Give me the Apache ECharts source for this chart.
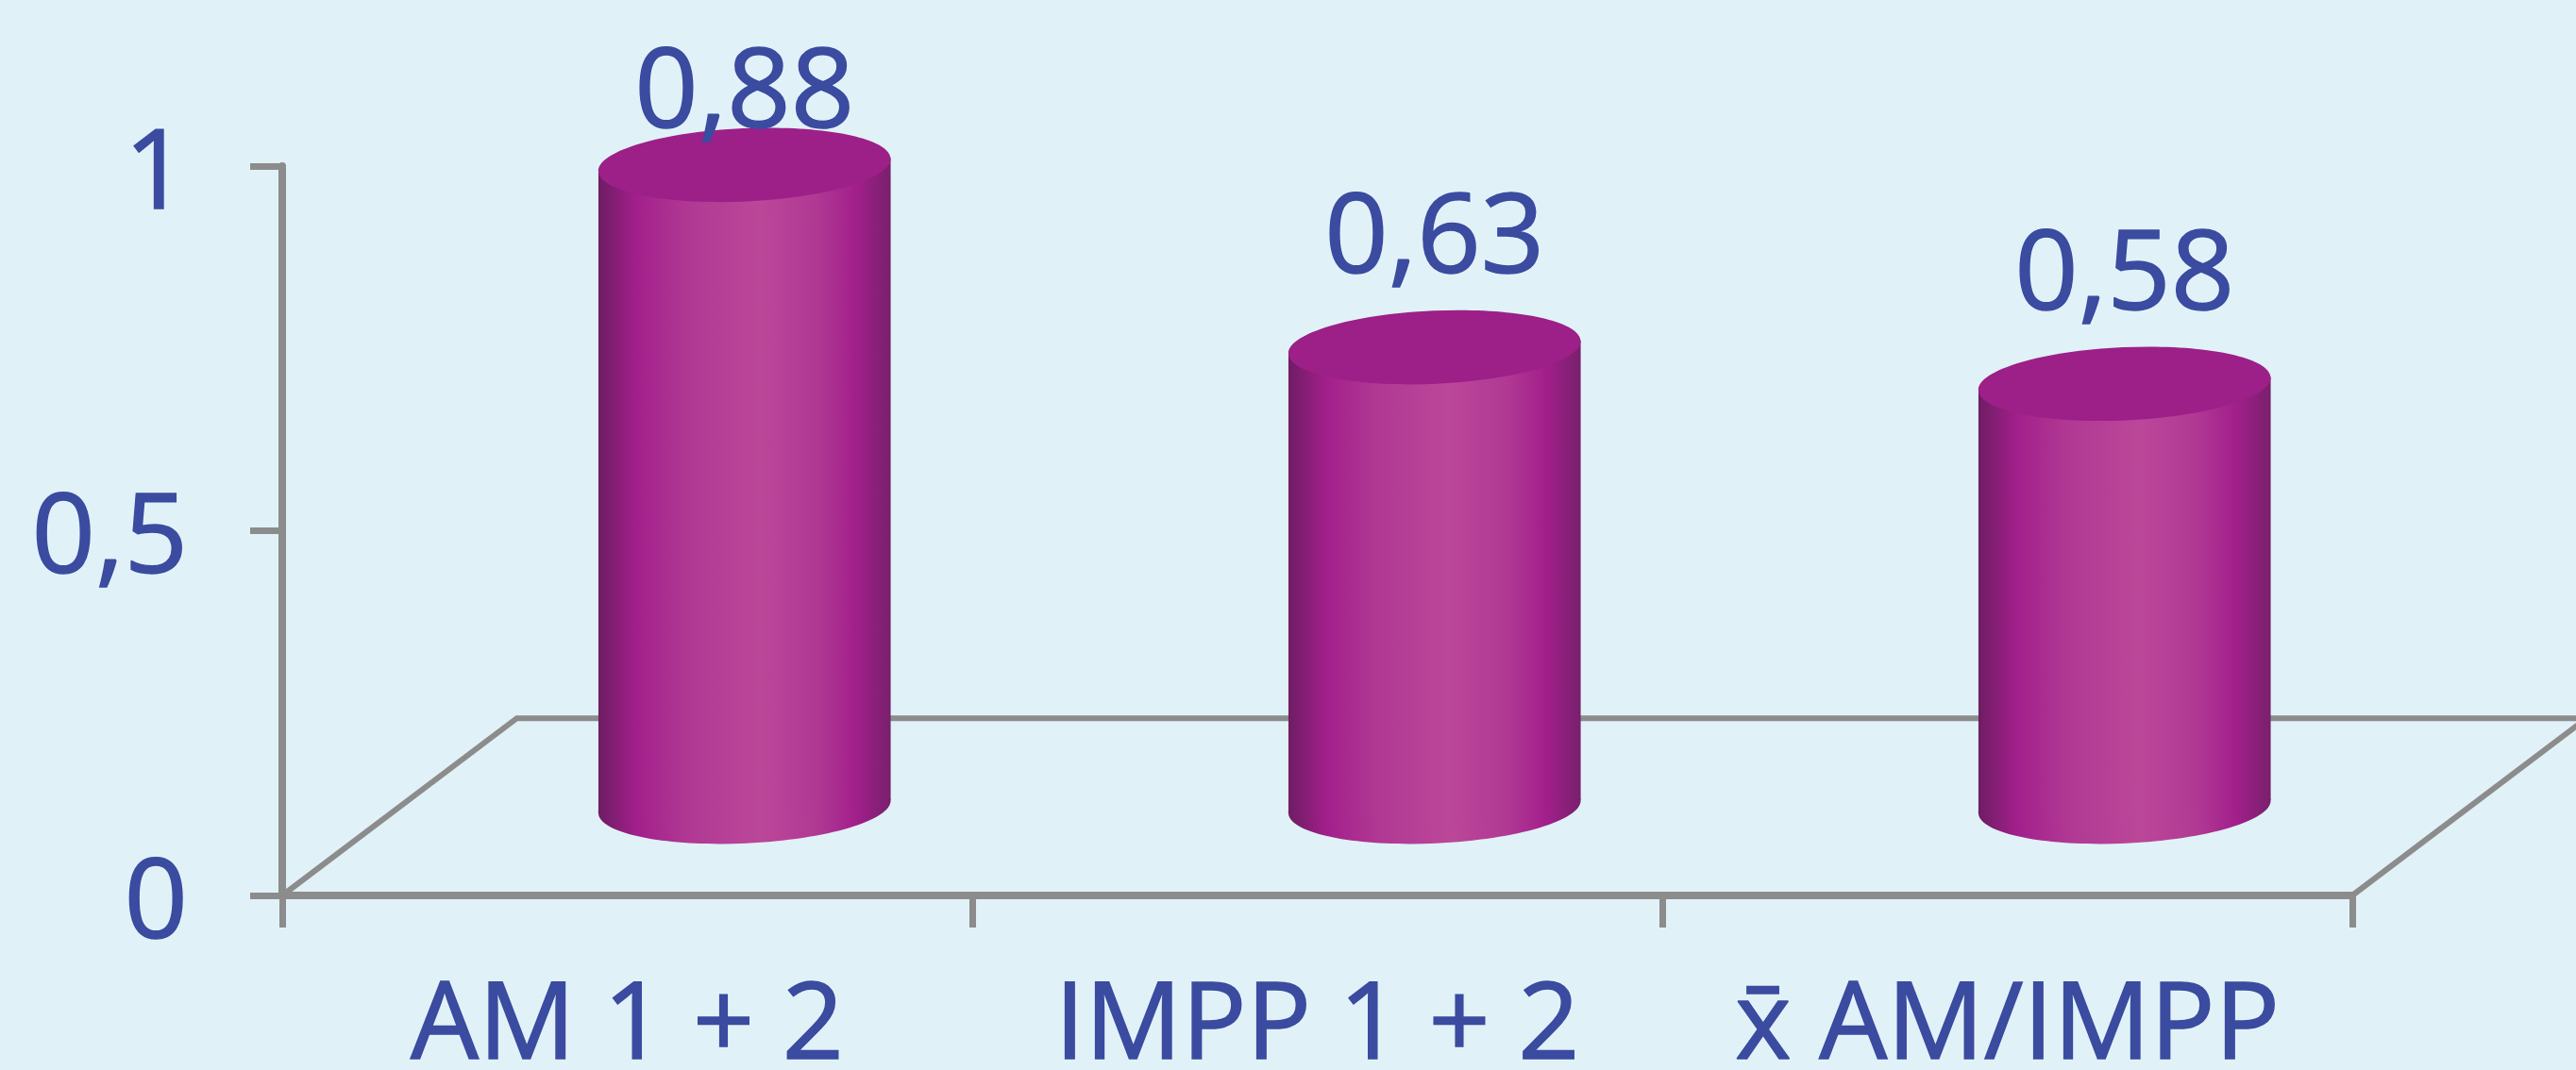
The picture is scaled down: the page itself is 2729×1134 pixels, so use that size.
<!DOCTYPE html>
<html>
<head>
<meta charset="utf-8">
<script src="https://cdn.jsdelivr.net/npm/echarts@6/dist/echarts.min.js"></script>
<style>
html,body{margin:0;padding:0;background:#E0F2F7;}
#chart{width:2729px;height:1134px;}
</style>
</head>
<body>
<div id="chart"></div>
<script>
// ---- data ----
const categories = ['AM 1 + 2', 'IMPP 1 + 2', 'x\u0304 AM/IMPP'];
const values = [0.88, 0.63, 0.58];
const yMin = 0, yMax = 1, yInterval = 0.5;

// ---- style ----
const BLUE = '#3A4BA0';
const GRAY = '#8C8C8C';
const FONT = '"Open Sans", "Noto Sans", sans-serif';
const WEIGHT = 'normal';
const EMB = 1.5; // slight emboldening stroke
const fmt = v => String(v).replace('.', ',');

const chart = echarts.init(document.getElementById('chart'), null, {renderer: 'canvas'});

const sideGradient = () => new echarts.graphic.LinearGradient(0, 0, 1, 0, [
  {offset: 0, color: '#6E1D63'},
  {offset: 0.13, color: '#A21F8B'},
  {offset: 0.3, color: '#B03893'},
  {offset: 0.55, color: '#BB4799'},
  {offset: 0.75, color: '#B03893'},
  {offset: 0.88, color: '#A21F8B'},
  {offset: 1, color: '#78206C'}
]);

function depth(band) {
  return {dx: band * 0.34, dy: band * 0.257};
}

const option = {
  backgroundColor: '#E0F2F7',
  animation: false,
  grid: {left: 299, right: 237, top: 176, bottom: 185, containLabel: false, outerBoundsMode: 'none'},
  xAxis: {
    type: 'category',
    data: categories,
    boundaryGap: true,
    axisLine: {show: true, lineStyle: {color: GRAY, width: 8}},
    axisTick: {show: true, interval: 0, length: 34, lineStyle: {color: GRAY, width: 7}},
    axisLabel: {show: true, interval: 0, hideOverlap: false, color: BLUE, fontSize: 114, fontWeight: WEIGHT,
      fontFamily: FONT, margin: 84, textBorderColor: BLUE, textBorderWidth: EMB}
  },
  yAxis: {
    type: 'value',
    min: yMin, max: yMax, interval: yInterval,
    axisLine: {show: true, lineStyle: {color: GRAY, width: 8}},
    axisTick: {show: true, length: 34, lineStyle: {color: GRAY, width: 7}},
    splitLine: {show: false},
    axisLabel: {color: BLUE, fontSize: 118, fontWeight: WEIGHT, fontFamily: FONT, margin: 100,
      verticalAlign: 'top', lineHeight: 22, textBorderColor: BLUE, textBorderWidth: EMB, formatter: fmt}
  },
  series: [
    {
      type: 'custom',
      name: 'floor',
      z: 1,
      silent: true,
      data: [[0]],
      renderItem: function (params, api) {
        const cs = params.coordSys;
        const band = cs.width / categories.length;
        const d = depth(band);
        const x0 = cs.x, y0 = cs.y + cs.height, x1 = cs.x + cs.width;
        return {
          type: 'polyline',
          shape: {points: [[x0, y0], [x0 + d.dx, y0 - d.dy], [x1 + d.dx, y0 - d.dy], [x1, y0]]},
          style: {stroke: GRAY, lineWidth: 6, fill: null}
        };
      }
    },
    {
      type: 'custom',
      name: 'values',
      z: 3,
      data: values.map((v, i) => [i, v]),
      renderItem: function (params, api) {
        const i = api.value(0), v = api.value(1);
        const top = api.coord([i, v]);
        const base = api.coord([i, 0]);
        const band = api.size([1, 0])[0];
        const d = depth(band);
        const cx = top[0] + d.dx / 2;
        const topY = top[1] - d.dy / 2;
        const botY = base[1] - d.dy / 2;
        const rx = band * 0.212, ry = rx * 0.25;
        const rot = 0.045;
        const ex = rx * Math.cos(rot), ey = rx * Math.sin(rot);
        const topEdge = topY - ry;
        const labelBaseline = Math.max(topEdge - 38, 137);
        return {
          type: 'group',
          children: [
            {type: 'ellipse', shape: {cx: cx, cy: botY, rx: rx, ry: ry}, rotation: rot, originX: cx, originY: botY,
             style: {fill: sideGradient()}},
            {type: 'polygon', shape: {points: [[cx - ex, topY + ey], [cx + ex, topY - ey], [cx + ex, botY - ey], [cx - ex, botY + ey]]},
             style: {fill: sideGradient()}},
            {type: 'ellipse', shape: {cx: cx, cy: topY, rx: rx, ry: ry}, rotation: rot, originX: cx, originY: topY,
             style: {fill: '#9C2088'}},
            {type: 'text', style: {text: fmt(v), x: cx, y: labelBaseline + 23, align: 'center', verticalAlign: 'bottom',
              fontSize: 118, fontWeight: WEIGHT, fontFamily: FONT, fill: BLUE, stroke: BLUE, lineWidth: EMB}}
          ]
        };
      }
    }
  ]
};
chart.setOption(option);
</script>
</body>
</html>
